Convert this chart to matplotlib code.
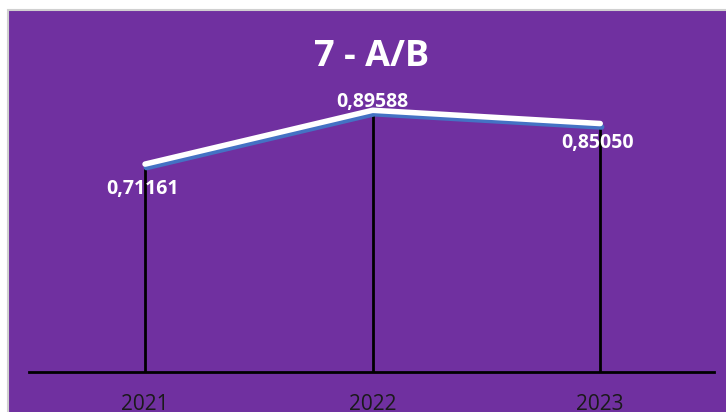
import matplotlib
matplotlib.use("Agg")
import matplotlib.pyplot as plt
import matplotlib.patheffects as pe
from matplotlib.patches import Rectangle

years = ["2021", "2022", "2023"]
values = [0.71161, 0.89588, 0.85050]
labels = ["0,71161", "0,89588", "0,85050"]

purple = "#7030A0"

fig = plt.figure(figsize=(7.26, 4.12), dpi=100)
fig.patch.set_facecolor("white")

# chart area panel with thin grey frame (runs off the bottom and right edges)
W, H = 726.0, 412.0
panel = Rectangle((8 / W, -0.05), 1.1, (H - 10) / H + 0.05, transform=fig.transFigure,
                  facecolor=purple, edgecolor="#D0D0D0", linewidth=1.5, zorder=-1)
fig.patches.append(panel)

ax = fig.add_axes([29 / W, 40 / H, (714 - 29) / W, 312 / H])
ax.set_facecolor("none")
x = list(range(len(years)))

ax.vlines(x, 0, values, color="black", linewidth=2, zorder=2)
ax.plot(x, values, color="white", linewidth=4, solid_capstyle="round", zorder=3,
        path_effects=[pe.SimpleLineShadow(offset=(1, -2.5), shadow_color="#4472C4", alpha=1),
                      pe.Normal()])

font = ["Open Sans", "DejaVu Sans"]
offsets = [(-0.01, -0.085), (0.0, 0.03), (-0.01, -0.065)]
for xi, v, lab, (dx, dy) in zip(x, values, labels, offsets):
    ax.text(xi + dx, v + dy, lab, color="white", fontsize=14, fontweight="bold",
            ha="center", va="center", family=font, zorder=4)

ax.set_xlim(-0.51, 2.5)
ax.set_ylim(0, 1.068)
ax.set_yticks([])
ax.set_xticks(x)
ax.set_xticklabels(years, fontsize=15, color="#1A1A1A", family=font)
ax.tick_params(axis="x", length=0, pad=16)
for s in ["top", "right", "left"]:
    ax.spines[s].set_visible(False)
ax.spines["bottom"].set_linewidth(2)
ax.spines["bottom"].set_color("black")

fig.text(372 / W, 1 - 57 / H, "7 - A/B", color="white", fontsize=26, fontweight="bold",
         ha="center", va="center", family=font)

fig.savefig("out.png", dpi=100, facecolor=fig.get_facecolor())
